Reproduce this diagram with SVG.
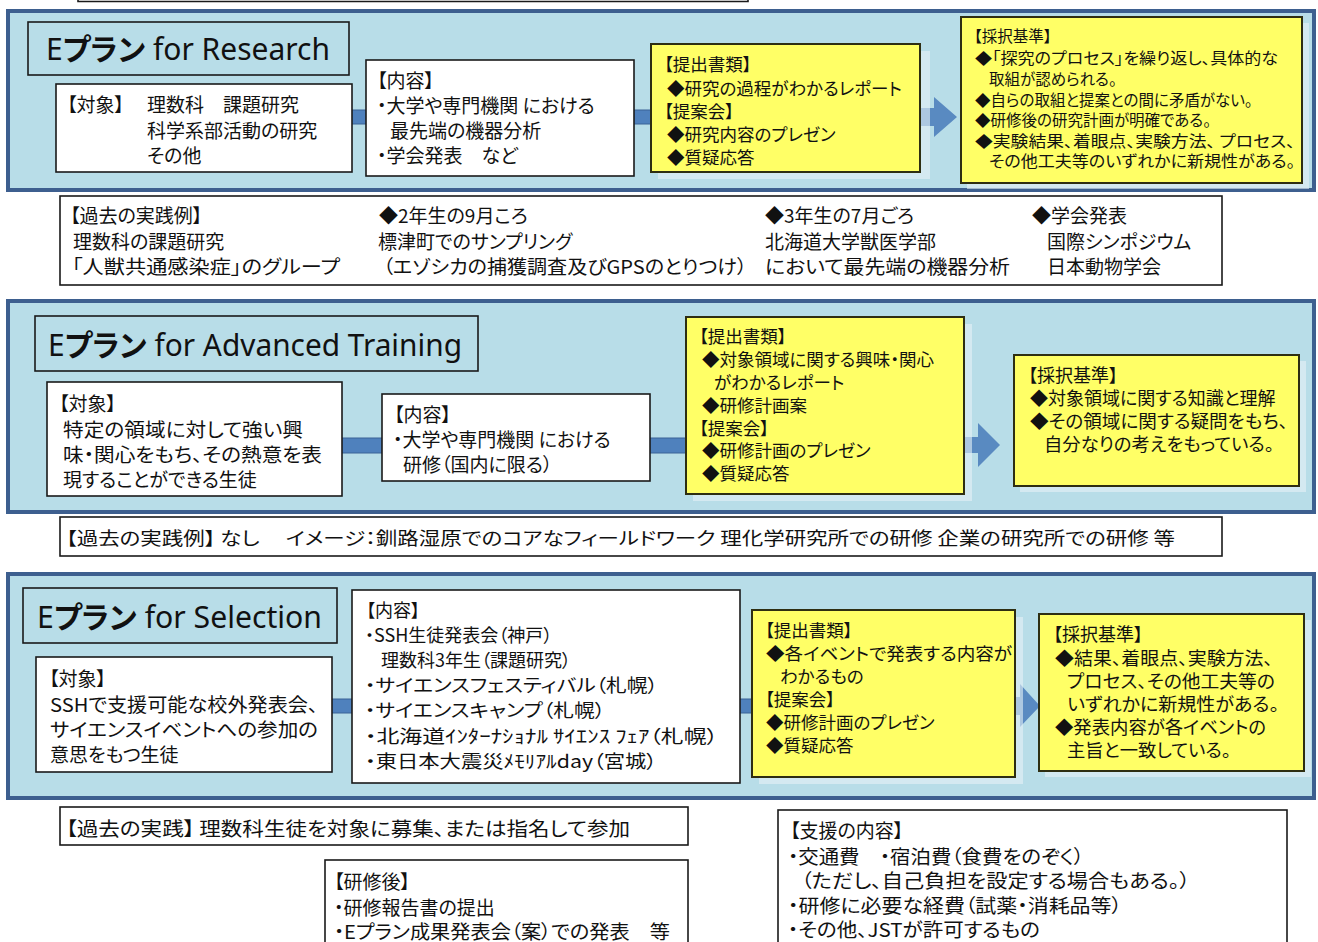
<svg xmlns="http://www.w3.org/2000/svg" width="1318" height="942" viewBox="0 0 1318 942">
<style>
text{font-family:"Noto Sans CJK JP","Noto Sans",sans-serif;fill:#111;dominant-baseline:central;font-feature-settings:"palt"}
.panel{fill:#b8dde8;stroke:#3d5f8f;stroke-width:4}
.wbox{fill:#fff;stroke:#1a1a1a;stroke-width:1.6}
.tbox{fill:#b8dde8;stroke:#1a1a1a;stroke-width:1.6}
.ybox{fill:#ffff66;stroke:#2e2e12;stroke-width:2}
.shadow{fill:#e6f2f6;opacity:.6}
.bar{fill:#4f81bd;stroke:#3a6296;stroke-width:1}
.arr{fill:#4f81bd;opacity:.9}
.title{font-family:"Noto Sans","Noto Sans CJK JP",sans-serif;font-size:30px}
.f19{font-size:19px}
.f18{font-size:18px}
.f175{font-size:17.5px}
.f155{font-size:15.5px}
</style>

<g id="top-fragment"><path d="M78,-5 V1.5 H748 V-5" fill="none" stroke="#1a1a1a" stroke-width="1.6"/></g>

<!-- panels -->
<g id="panel-research"><rect class="panel" x="8" y="11" width="1306" height="179"/></g>
<g id="panel-advanced"><rect class="panel" x="8" y="301" width="1306" height="211"/></g>
<g id="panel-selection"><rect class="panel" x="8" y="574" width="1306" height="224"/></g>

<!-- connectors -->
<g id="connectors">
  <rect class="bar" x="340" y="110" width="320" height="14"/>
  <path class="arr" d="M920,108 H934 V97 L957,117 L934,137 V126 H920 Z"/>
  <rect class="bar" x="330" y="438" width="365" height="15"/>
  <path class="arr" d="M964,437 H978 V423 L1000,445 L978,467 V453 H964 Z"/>
  <rect class="bar" x="320" y="699" width="440" height="14"/>
  <path class="arr" d="M1015,697 H1020 V684 L1040,706 L1020,727 V715 H1015 Z"/>
</g>

<!-- Section 1 -->
<g id="title-research">
  <rect class="tbox" x="28" y="22" width="321" height="53"/>
  <text class="title" x="46" y="48" textLength="284" lengthAdjust="spacingAndGlyphs">E<tspan font-weight="700">プラン</tspan> for Research</text>
</g>
<g id="target-research">
  <rect class="wbox" x="56" y="84" width="296" height="88"/>
  <text class="f19" x="67" y="103">【対象】</text>
  <text class="f19" x="147" y="103">理数科　課題研究</text>
  <text class="f19" x="147" y="129">科学系部活動の研究</text>
  <text class="f19" x="147" y="154">その他</text>
</g>
<g id="content-research">
  <rect class="wbox" x="366" y="60" width="268" height="116"/>
  <text class="f19" x="377" y="79">【内容】</text>
  <text class="f19" x="377" y="104">・大学や専門機関 における</text>
  <text class="f19" x="390" y="129">最先端の機器分析</text>
  <text class="f19" x="377" y="154">・学会発表　など</text>
</g>
<g id="docs-research">
  <rect class="shadow" x="658" y="51" width="272" height="128"/>
  <rect class="ybox" x="651" y="44" width="269" height="128"/>
  <text class="f175" x="664" y="63">【提出書類】</text>
  <text class="f175" x="667" y="87">◆研究の過程がわかるレポート</text>
  <text class="f175" x="664" y="110">【提案会】</text>
  <text class="f175" x="667" y="133">◆研究内容のプレゼン</text>
  <text class="f175" x="667" y="156">◆質疑応答</text>
</g>
<g id="criteria-research">
  <rect class="shadow" x="967" y="23" width="342" height="166"/>
  <rect class="ybox" x="961" y="17" width="341" height="166"/>
  <text class="f155" x="974" y="35">【採択基準】</text>
  <text class="f155" x="975" y="57" textLength="303" lengthAdjust="spacingAndGlyphs">◆「探究のプロセス」を繰り返し、具体的な</text>
  <text class="f155" x="989" y="78">取組が認められる。</text>
  <text class="f155" x="975" y="99">◆自らの取組と提案との間に矛盾がない。</text>
  <text class="f155" x="975" y="119">◆研修後の研究計画が明確である。</text>
  <text class="f155" x="975" y="140" textLength="320" lengthAdjust="spacingAndGlyphs">◆実験結果、着眼点、実験方法、 プロセス、</text>
  <text class="f155" x="989" y="160" textLength="306" lengthAdjust="spacingAndGlyphs">その他工夫等のいずれかに新規性がある。</text>
</g>
<g id="past-research">
  <rect class="wbox" x="60" y="196" width="1162" height="89"/>
  <text class="f19" x="70" y="214">【過去の実践例】</text>
  <text class="f19" x="73" y="240">理数科の課題研究</text>
  <text class="f19" x="72" y="265" textLength="268" lengthAdjust="spacingAndGlyphs">「人獣共通感染症」のグループ</text>
  <text class="f19" x="379" y="214">◆2年生の9月ころ</text>
  <text class="f19" x="378" y="240">標津町でのサンプリング</text>
  <text class="f19" x="383" y="265" textLength="364" lengthAdjust="spacingAndGlyphs">（エゾシカの捕獲調査及びGPSのとりつけ）</text>
  <text class="f19" x="765" y="214">◆3年生の7月ごろ</text>
  <text class="f19" x="765" y="240">北海道大学獣医学部</text>
  <text class="f19" x="765" y="265" textLength="245" lengthAdjust="spacingAndGlyphs">において最先端の機器分析</text>
  <text class="f19" x="1032" y="214">◆学会発表</text>
  <text class="f19" x="1047" y="240">国際シンポジウム</text>
  <text class="f19" x="1047" y="265">日本動物学会</text>
</g>

<!-- Section 2 -->
<g id="title-advanced">
  <rect class="tbox" x="35" y="316" width="443" height="55"/>
  <text class="title" x="48" y="344" textLength="414" lengthAdjust="spacingAndGlyphs">E<tspan font-weight="700">プラン</tspan> for Advanced Training</text>
</g>
<g id="target-advanced">
  <rect class="wbox" x="47" y="382" width="295" height="114"/>
  <text class="f19" x="59" y="402">【対象】</text>
  <text class="f19" x="63" y="428" textLength="240" lengthAdjust="spacingAndGlyphs">特定の領域に対して強い興</text>
  <text class="f19" x="63" y="453" textLength="259" lengthAdjust="spacingAndGlyphs">味・関心をもち、その熱意を表</text>
  <text class="f19" x="63" y="478">現することができる生徒</text>
</g>
<g id="content-advanced">
  <rect class="wbox" x="382" y="394" width="268" height="87"/>
  <text class="f19" x="394" y="413">【内容】</text>
  <text class="f19" x="393" y="438">・大学や専門機関 における</text>
  <text class="f19" x="403" y="463">研修（国内に限る）</text>
</g>
<g id="docs-advanced">
  <rect class="shadow" x="693" y="324" width="279" height="177"/>
  <rect class="ybox" x="686" y="317" width="278" height="177"/>
  <text class="f175" x="699" y="335">【提出書類】</text>
  <text class="f175" x="702" y="358">◆対象領域に関する興味・関心</text>
  <text class="f175" x="714" y="381">がわかるレポート</text>
  <text class="f175" x="702" y="404">◆研修計画案</text>
  <text class="f175" x="699" y="427">【提案会】</text>
  <text class="f175" x="702" y="449">◆研修計画のプレゼン</text>
  <text class="f175" x="702" y="472">◆質疑応答</text>
</g>
<g id="criteria-advanced">
  <rect class="shadow" x="1020" y="361" width="286" height="131"/>
  <rect class="ybox" x="1014" y="355" width="285" height="131"/>
  <text class="f18" x="1028" y="374">【採択基準】</text>
  <text class="f18" x="1030" y="397">◆対象領域に関する知識と理解</text>
  <text class="f18" x="1030" y="420" textLength="258" lengthAdjust="spacingAndGlyphs">◆その領域に関する疑問をもち、</text>
  <text class="f18" x="1044" y="443" textLength="230" lengthAdjust="spacingAndGlyphs">自分なりの考えをもっている。</text>
</g>
<g id="past-advanced">
  <rect class="wbox" x="60" y="517" width="1162" height="39"/>
  <text class="f18" x="66" y="537" textLength="1109" lengthAdjust="spacingAndGlyphs">【過去の実践例】 なし　 イメージ：釧路湿原でのコアなフィールドワーク  理化学研究所での研修  企業の研究所での研修  等</text>
</g>

<!-- Section 3 -->
<g id="title-selection">
  <rect class="tbox" x="23" y="588" width="314" height="55"/>
  <text class="title" x="37" y="616" textLength="285" lengthAdjust="spacingAndGlyphs">E<tspan font-weight="700">プラン</tspan> for Selection</text>
</g>
<g id="target-selection">
  <rect class="wbox" x="36" y="657" width="296" height="115"/>
  <text class="f19" x="49" y="677">【対象】</text>
  <text class="f19" x="50" y="703" textLength="268" lengthAdjust="spacingAndGlyphs">SSHで支援可能な校外発表会、</text>
  <text class="f19" x="50" y="728" textLength="268" lengthAdjust="spacingAndGlyphs">サイエンスイベントへの参加の</text>
  <text class="f19" x="50" y="753">意思をもつ生徒</text>
</g>
<g id="content-selection">
  <rect class="wbox" x="352" y="590" width="388" height="193"/>
  <text class="f18" x="366" y="609">【内容】</text>
  <text class="f18" x="365" y="634">・SSH生徒発表会（神戸）</text>
  <text class="f18" x="381" y="659">理数科3年生（課題研究）</text>
  <text class="f18" x="365" y="684" textLength="293" lengthAdjust="spacingAndGlyphs">・サイエンスフェスティバル（札幌）</text>
  <text class="f18" x="365" y="709" textLength="240" lengthAdjust="spacingAndGlyphs">・サイエンスキャンプ（札幌）</text>
  <text class="f18" x="365" y="735" textLength="353" lengthAdjust="spacingAndGlyphs">・北海道ｲﾝﾀｰﾅｼｮﾅﾙ ｻｲｴﾝｽ ﾌｪｱ（札幌）</text>
  <text class="f18" x="365" y="760" textLength="292" lengthAdjust="spacingAndGlyphs">・東日本大震災ﾒﾓﾘｱﾙday（宮城）</text>
</g>
<g id="docs-selection">
  <rect class="shadow" x="759" y="617" width="264" height="167"/>
  <rect class="ybox" x="752" y="610" width="263" height="167"/>
  <text class="f175" x="765" y="629">【提出書類】</text>
  <text class="f175" x="766" y="652" textLength="246" lengthAdjust="spacingAndGlyphs">◆各イベントで発表する内容が</text>
  <text class="f175" x="780" y="675">わかるもの</text>
  <text class="f175" x="765" y="698">【提案会】</text>
  <text class="f175" x="766" y="721">◆研修計画のプレゼン</text>
  <text class="f175" x="766" y="744">◆質疑応答</text>
</g>
<g id="criteria-selection">
  <rect class="shadow" x="1045" y="620" width="266" height="157"/>
  <rect class="ybox" x="1039" y="614" width="265" height="157"/>
  <text class="f18" x="1053" y="633">【採択基準】</text>
  <text class="f18" x="1055" y="657" textLength="218" lengthAdjust="spacingAndGlyphs">◆結果、着眼点、実験方法、</text>
  <text class="f18" x="1067" y="680" textLength="208" lengthAdjust="spacingAndGlyphs">プロセス、その他工夫等の</text>
  <text class="f18" x="1067" y="703" textLength="212" lengthAdjust="spacingAndGlyphs">いずれかに新規性がある。</text>
  <text class="f18" x="1055" y="726" textLength="211" lengthAdjust="spacingAndGlyphs">◆発表内容が各イベントの</text>
  <text class="f18" x="1067" y="749" textLength="164" lengthAdjust="spacingAndGlyphs">主旨と一致している。</text>
</g>

<!-- bottom -->
<g id="past-selection">
  <rect class="wbox" x="60" y="807" width="628" height="38"/>
  <text class="f19" x="66" y="827" textLength="564" lengthAdjust="spacingAndGlyphs">【過去の実践】 理数科生徒を対象に募集、または指名して参加</text>
</g>
<g id="after-training">
  <rect class="wbox" x="325" y="860" width="363" height="90"/>
  <text class="f19" x="334" y="880">【研修後】</text>
  <text class="f19" x="334" y="906">・研修報告書の提出</text>
  <text class="f19" x="334" y="930" textLength="336" lengthAdjust="spacingAndGlyphs">・Eプラン成果発表会（案）での発表　等</text>
</g>
<g id="support">
  <rect class="wbox" x="778" y="810" width="509" height="140"/>
  <text class="f19" x="790" y="829">【支援の内容】</text>
  <text class="f19" x="788" y="855" textLength="296" lengthAdjust="spacingAndGlyphs">・交通費　・宿泊費（食費をのぞく）</text>
  <text class="f19" x="801" y="879" textLength="389" lengthAdjust="spacingAndGlyphs">（ただし、自己負担を設定する場合もある。）</text>
  <text class="f19" x="788" y="904" textLength="334" lengthAdjust="spacingAndGlyphs">・研修に必要な経費（試薬・消耗品等）</text>
  <text class="f19" x="788" y="928" textLength="252" lengthAdjust="spacingAndGlyphs">・その他、JSTが許可するもの</text>
</g>
</svg>
